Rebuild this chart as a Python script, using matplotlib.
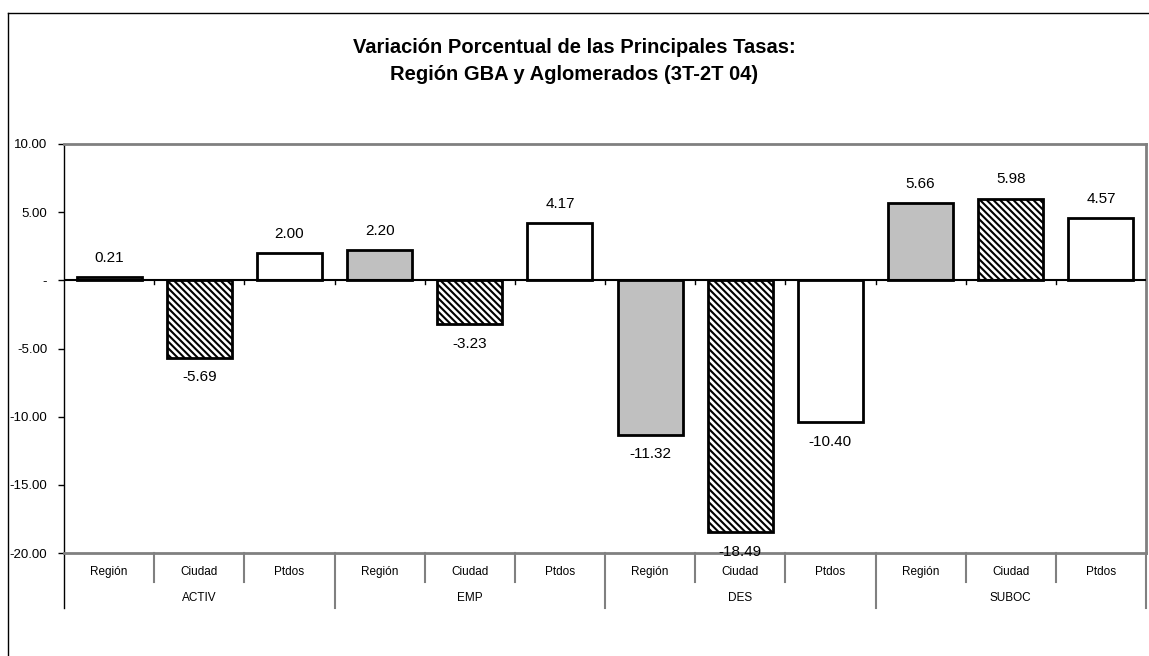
import matplotlib.pyplot as plt
import matplotlib.transforms as mtransforms
import numpy as np

plt.rcParams['font.family'] = ['Liberation Sans', 'DejaVu Sans']
plt.rcParams['hatch.linewidth'] = 1.5

# data
groups = ["ACTIV", "EMP", "DES", "SUBOC"]
subcats = ["Región", "Ciudad", "Ptdos"]
region = [0.21, 2.20, -11.32, 5.66]
ciudad = [-5.69, -3.23, -18.49, 5.98]
ptdos = [2.00, 4.17, -10.40, 4.57]

values = []
for i in range(len(groups)):
    values += [region[i], ciudad[i], ptdos[i]]
values = np.array(values)
x = np.arange(len(values))

fig = plt.figure(figsize=(11.49, 6.56), dpi=100)
ax = fig.add_axes([0.0557, 0.157, 0.9417, 0.6235])

styles = [dict(color="#c0c0c0", hatch=None),
          dict(color="white", hatch="\\\\\\\\\\"),
          dict(color="white", hatch=None)]

for k, v in enumerate(values):
    st = styles[k % 3]
    ax.bar(x[k], v, width=0.72, color=st["color"], hatch=st["hatch"],
           edgecolor="black", linewidth=2.0, zorder=3)
    off = 14 if v > 0 else -14
    ax.annotate(f"{v:.2f}", (x[k], v), xytext=(0, off), textcoords="offset points",
                ha="center", va="center", fontsize=11, annotation_clip=False, zorder=5)

ax.set_xlim(-0.5, 11.5)
ax.set_ylim(-20, 10)
yt = [10, 5, 0, -5, -10, -15, -20]
ax.set_yticks(yt)
ax.set_yticklabels([("%.2f" % t) if t != 0 else "-" for t in yt], fontsize=9.5)
ax.tick_params(axis="y", length=4, width=1, pad=8)
ax.set_xticks([])

for s in ["top", "right", "bottom"]:
    ax.spines[s].set_color("#808080")
    ax.spines[s].set_linewidth(2)
ax.spines["left"].set_linewidth(1)
ax.spines["left"].set_color("black")

# zero line with small ticks
ax.axhline(0, color="black", linewidth=1.5, zorder=4)
for b in np.arange(0.5, 11.5, 1):
    ax.plot([b, b], [0, -0.3], color="black", linewidth=1, zorder=4)

# category axis below
trans = mtransforms.blended_transform_factory(ax.transData, ax.transAxes)
for b in np.arange(-0.5, 12, 1):
    grp_edge = (b + 0.5) % 3 == 0
    y1 = -0.135 if grp_edge else -0.071
    col = "black" if b == -0.5 else "#808080"
    ax.plot([b, b], [0, y1], color=col, linewidth=1.5 if b != -0.5 else 1,
            transform=trans, clip_on=False)
for k in range(len(values)):
    ax.text(x[k], -0.046, subcats[k % 3], transform=trans, ha="center", va="center", fontsize=8.5)
for g, name in enumerate(groups):
    ax.text(3 * g + 1, -0.11, name, transform=trans, ha="center", va="center", fontsize=8.5)

fig.text(0.5, 0.942, "Variación Porcentual de las Principales Tasas:\nRegión GBA y Aglomerados (3T-2T 04)",
         ha="center", va="top", fontsize=14.5, fontweight="bold", linespacing=1.55)

# outer frame
fig.add_artist(plt.Line2D([0.007, 0.007], [0, 0.98], color="black", linewidth=1, transform=fig.transFigure))
fig.add_artist(plt.Line2D([0.007, 1.0], [0.98, 0.98], color="black", linewidth=1, transform=fig.transFigure))

fig.savefig("out.png", dpi=100)
